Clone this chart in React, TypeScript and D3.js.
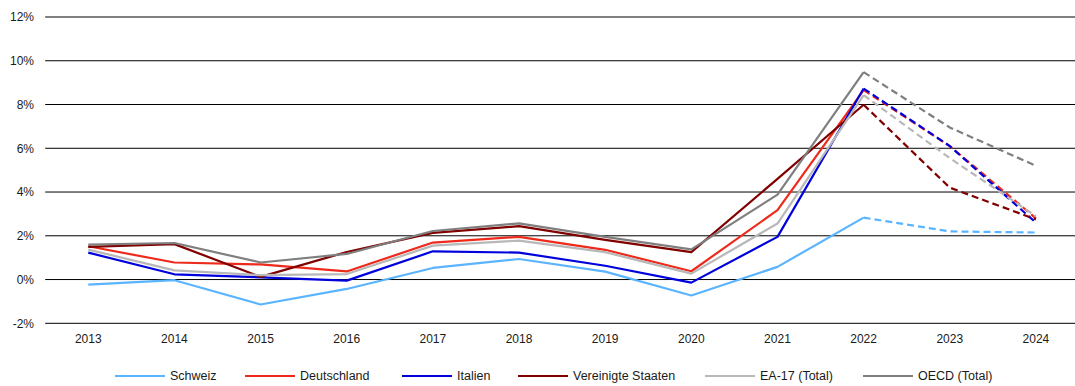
import React from "react";
import * as d3 from "d3";

// Inflation rates, per cent, 2013–2024 (2023 and 2024 are forecasts, drawn dashed)
const years = ["2013", "2014", "2015", "2016", "2017", "2018", "2019", "2020", "2021", "2022", "2023", "2024"];
const schweiz = [-0.23, -0.03, -1.14, -0.43, 0.53, 0.94, 0.36, -0.73, 0.58, 2.83, 2.2, 2.15];
const deutschland = [1.52, 0.78, 0.69, 0.37, 1.69, 1.95, 1.36, 0.38, 3.17, 8.66, 6.1, 2.8];
const italien = [1.23, 0.24, 0.1, -0.05, 1.29, 1.23, 0.63, -0.14, 1.95, 8.73, 6.1, 2.6];
const usa = [1.49, 1.62, 0.12, 1.26, 2.13, 2.44, 1.81, 1.25, 4.6, 7.99, 4.2, 2.75];
const ea17 = [1.37, 0.42, 0.2, 0.25, 1.55, 1.78, 1.25, 0.27, 2.56, 8.43, 5.55, 2.9];
const oecd = [1.6, 1.67, 0.78, 1.17, 2.22, 2.57, 1.95, 1.38, 3.88, 9.48, 6.95, 5.2];
const yTicks = [-2, 0, 2, 4, 6, 8, 10, 12];
// index of the last actual value; segments after it are forecasts
const lastActual = 9;

const series = [
  { name: "Schweiz", values: schweiz, color: "#5ab4ff" },
  { name: "Deutschland", values: deutschland, color: "#ee2a1c" },
  { name: "Italien", values: italien, color: "#0000dd" },
  { name: "Vereinigte Staaten", values: usa, color: "#800000" },
  { name: "EA-17 (Total)", values: ea17, color: "#b8b8b8" },
  { name: "OECD (Total)", values: oecd, color: "#7f7f7f" },
];

const legendX = [115, 245, 402, 518, 705, 863];

export default function App() {
  const width = 1075;
  const height = 386;
  const x = d3.scaleBand<string>().domain(years).range([45.2, 1079]).paddingInner(0).paddingOuter(0);
  const cx = (y: string) => (x(y) ?? 0) + x.bandwidth() / 2;
  const y = d3.scaleLinear().domain([-2, 12]).range([323.3, 17]);
  const line = d3
    .line<[string, number]>()
    .x((d) => cx(d[0]))
    .y((d) => y(d[1]));
  const font = "Arial, 'Liberation Sans', sans-serif";

  return (
    <svg
      width={width}
      height={height}
      style={{ position: "absolute", left: 0, top: 0, background: "#fff" }}
      fontFamily={font}
    >
      {yTicks.map((t) => (
        <g key={t}>
          <line x1={45.2} x2={width} y1={y(t)} y2={y(t)} stroke="#000" strokeWidth={1} />
          <text x={34} y={y(t) + 4.3} textAnchor="end" fontSize={12} fill="#1a1a1a">
            {`${t}%`}
          </text>
        </g>
      ))}
      {years.map((yr) => (
        <text key={yr} x={cx(yr)} y={342.5} textAnchor="middle" fontSize={12} fill="#1a1a1a">
          {yr}
        </text>
      ))}
      {series.map((s) => {
        const pts: [string, number][] = years.map((yr, i) => [yr, s.values[i]]);
        return (
          <g key={s.name}>
            <path
              d={line(pts.slice(0, lastActual + 1)) ?? ""}
              fill="none"
              stroke={s.color}
              strokeWidth={2.2}
              strokeLinejoin="round"
            />
            <path
              d={line(pts.slice(lastActual)) ?? ""}
              fill="none"
              stroke={s.color}
              strokeWidth={2.2}
              strokeDasharray="7,4"
            />
          </g>
        );
      })}
      {series.map((s, i) => (
        <g key={`lg-${s.name}`}>
          <line x1={legendX[i]} x2={legendX[i] + 50} y1={376} y2={376} stroke={s.color} strokeWidth={2.2} />
          <text x={legendX[i] + 55} y={380.4} fontSize={12.5} fill="#1a1a1a">
            {s.name}
          </text>
        </g>
      ))}
    </svg>
  );
}
